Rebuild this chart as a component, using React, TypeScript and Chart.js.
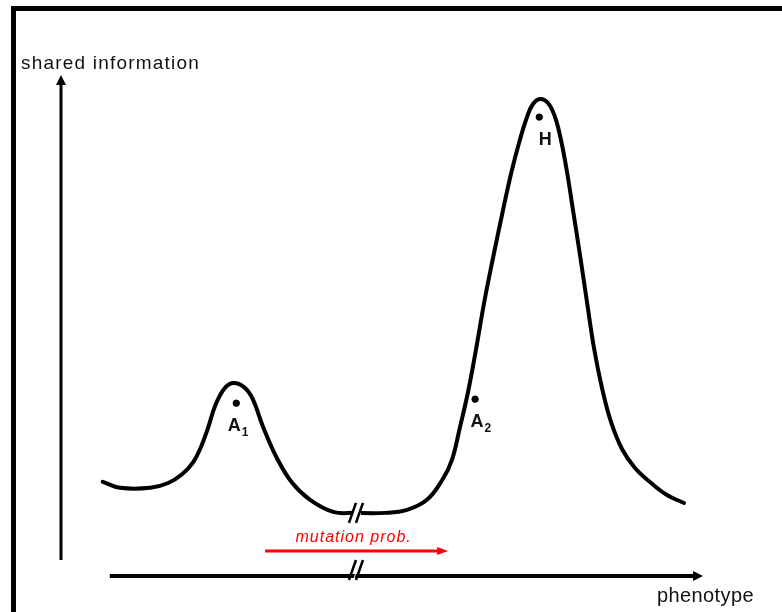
import React, { useEffect, useRef } from "react";
import { Chart, registerables } from "chart.js";

Chart.register(...registerables);

// Landscape curve: phenotype (x) vs shared information (y), arbitrary units 0..100
const curveX = [6.5, 9.2, 13.9, 16.7, 18.9, 20.6, 21.8, 22.9, 24.0, 25.4, 26.8, 28.5, 29.8, 31.5, 33.6, 36.0, 38.8, 42.4, 45.8, 50.5, 53.9, 57.0, 59.4, 60.9, 62.15, 63.4, 64.6, 65.9, 67.29, 68.69, 70.09, 71.34, 72.59, 73.52, 74.61, 75.86, 76.95, 77.88, 78.82, 79.75, 80.84, 81.93, 83.02, 84.27, 85.67, 87.38, 89.41, 91.74, 94.39, 97.04];
const curveY = [18.8, 17.6, 17.6, 18.56, 20.36, 22.75, 25.75, 29.54, 33.93, 37.33, 38.5, 37.7, 35.5, 29.7, 23.6, 18.6, 15.2, 12.8, 12.6, 12.6, 13.2, 15.2, 19.2, 23.2, 29.74, 36.73, 44.91, 54.49, 63.47, 72.06, 80.24, 86.43, 91.62, 94.21, 95.21, 94.41, 91.62, 87.03, 80.64, 73.05, 64.07, 54.69, 45.51, 37.52, 30.74, 25.35, 21.56, 18.76, 16.17, 14.57];

// Marked points
const pointNames = ["A", "A", "H"];
const pointSubs = ["1", "2", ""];
const pointX = [27.3, 64.5, 74.5];
const pointY = [34.5, 35.3, 91.6];

// Axes (arrows) and break
const yAxisFrom = 3.2;
const yAxisTip = 100;
const xAxisFrom = 7.6;
const xAxisTip = 100;
const breakX = 46.1;
const breakCurveY = 12.6;

// Mutation probability arrow
const mutFrom = 31.8;
const mutTip = 60.3;
const mutY = 5.0;

const yLabel = "shared information";
const xLabel = "phenotype";
const mutLabel = "mutation prob.";

const FONT = "'Liberation Sans', Arial, sans-serif";

function head(ctx: CanvasRenderingContext2D, tx: number, ty: number, dir: "up" | "right", len: number, w: number, color: string) {
  ctx.fillStyle = color;
  ctx.beginPath();
  if (dir === "up") {
    ctx.moveTo(tx, ty);
    ctx.lineTo(tx - w / 2, ty + len);
    ctx.lineTo(tx + w / 2, ty + len);
  } else {
    ctx.moveTo(tx, ty);
    ctx.lineTo(tx - len, ty - w / 2);
    ctx.lineTo(tx - len, ty + w / 2);
  }
  ctx.closePath();
  ctx.fill();
}

function breakMark(ctx: CanvasRenderingContext2D, cx: number, cy: number) {
  ctx.fillStyle = "#fff";
  ctx.beginPath();
  ctx.moveTo(cx - 4, cy + 10);
  ctx.lineTo(cx + 3, cy - 10);
  ctx.lineTo(cx + 4, cy - 10);
  ctx.lineTo(cx - 3, cy + 10);
  ctx.closePath();
  ctx.fill();
  ctx.fillRect(cx - 4, cy - 4, 8, 8);
  ctx.strokeStyle = "#000";
  ctx.lineWidth = 2.5;
  ctx.beginPath();
  ctx.moveTo(cx - 8, cy + 10);
  ctx.lineTo(cx - 1, cy - 10);
  ctx.moveTo(cx - 1, cy + 10);
  ctx.lineTo(cx + 6, cy - 10);
  ctx.stroke();
}

const annotate = {
  id: "annotate",
  afterDatasetsDraw(chart: any) {
    const { ctx, scales } = chart;
    const px = (v: number) => scales.x.getPixelForValue(v);
    const py = (v: number) => scales.y.getPixelForValue(v);
    ctx.save();
    // arrow heads
    head(ctx, px(0), py(yAxisTip), "up", 10, 10, "#000");
    head(ctx, px(xAxisTip), py(0), "right", 10, 10, "#000");
    head(ctx, px(mutTip), py(mutY), "right", 11, 8, "#ff0000");
    // breaks
    breakMark(ctx, px(breakX), py(breakCurveY));
    breakMark(ctx, px(breakX), py(0) - 6);
    // axis labels
    ctx.fillStyle = "#111";
    ctx.textBaseline = "alphabetic";
    ctx.textAlign = "left";
    ctx.font = `19px ${FONT}`;
    (ctx as any).letterSpacing = "1.2px";
    ctx.fillText(yLabel, px(0) - 40, py(yAxisTip) - 6);
    ctx.font = `20px ${FONT}`;
    (ctx as any).letterSpacing = "0.4px";
    ctx.fillText(xLabel, px(xAxisTip) - 46, py(0) + 26);
    // mutation label
    ctx.fillStyle = "#ff0000";
    ctx.font = `italic 16px ${FONT}`;
    (ctx as any).letterSpacing = "1px";
    ctx.textAlign = "center";
    ctx.fillText(mutLabel, (px(mutFrom) + px(mutTip)) / 2 - 3, py(mutY) - 9);
    (ctx as any).letterSpacing = "0px";
    // point labels
    ctx.fillStyle = "#111";
    for (let i = 0; i < pointNames.length; i++) {
      const x = px(pointX[i]);
      const y = py(pointY[i]);
      const dx = pointSubs[i] ? (i === 1 ? 2 : -2) : 6;
      ctx.font = `bold 18px ${FONT}`;
      ctx.textAlign = "center";
      ctx.fillText(pointNames[i], x + dx, y + 28);
      if (pointSubs[i]) {
        const w = ctx.measureText(pointNames[i]).width;
        ctx.font = `bold 12px ${FONT}`;
        ctx.textAlign = "left";
        ctx.fillText(pointSubs[i], x + dx + w / 2 + 1, y + 33);
      }
    }
    ctx.restore();
  },
};

export default function App() {
  const ref = useRef<HTMLCanvasElement | null>(null);
  useEffect(() => {
    if (!ref.current) return;
    const chart = new Chart(ref.current, {
      type: "line",
      data: {
        datasets: [
          {
            data: curveX.map((x, i) => ({ x, y: curveY[i] })),
            borderColor: "#000",
            borderWidth: 4,
            pointRadius: 0,
            tension: 0.4,
            borderJoinStyle: "round",
            borderCapStyle: "round",
            fill: false,
            clip: false,
          } as any,
          {
            data: [{ x: 0, y: yAxisFrom }, { x: 0, y: yAxisTip - 2 }],
            borderColor: "#000",
            borderWidth: 3,
            pointRadius: 0,
            clip: false,
          } as any,
          {
            data: [{ x: xAxisFrom, y: 0 }, { x: xAxisTip - 1.5, y: 0 }],
            borderColor: "#000",
            borderWidth: 4,
            pointRadius: 0,
            clip: false,
          } as any,
          {
            data: [{ x: mutFrom, y: mutY }, { x: mutTip - 1.5, y: mutY }],
            borderColor: "#ff0000",
            borderWidth: 3,
            pointRadius: 0,
            clip: false,
          } as any,
          {
            type: "scatter",
            data: pointX.map((x, i) => ({ x, y: pointY[i] })),
            backgroundColor: "#000",
            borderColor: "#000",
            pointRadius: 3.2,
            showLine: false,
            clip: false,
          } as any,
        ],
      },
      options: {
        animation: false,
        responsive: false,
        devicePixelRatio: 1,
        layout: { padding: { left: 61, right: 79, top: 75, bottom: 36 } },
        scales: {
          x: { type: "linear", min: 0, max: 100, display: false },
          y: { type: "linear", min: 0, max: 100, display: false },
        },
        plugins: { legend: { display: false }, tooltip: { enabled: false } },
        events: [],
      },
      plugins: [annotate],
    });
    return () => chart.destroy();
  }, []);
  return (
    <div style={{ position: "fixed", left: 0, top: 0, width: 782, height: 612, background: "#fff", overflow: "hidden" }}>
      <canvas ref={ref} width={782} height={612} style={{ position: "absolute", left: 0, top: 0 }} />
      <div
        style={{
          position: "absolute",
          left: 11,
          top: 6,
          width: 800,
          height: 700,
          borderLeft: "5px solid #000",
          borderTop: "5px solid #000",
          pointerEvents: "none",
        }}
      />
    </div>
  );
}
